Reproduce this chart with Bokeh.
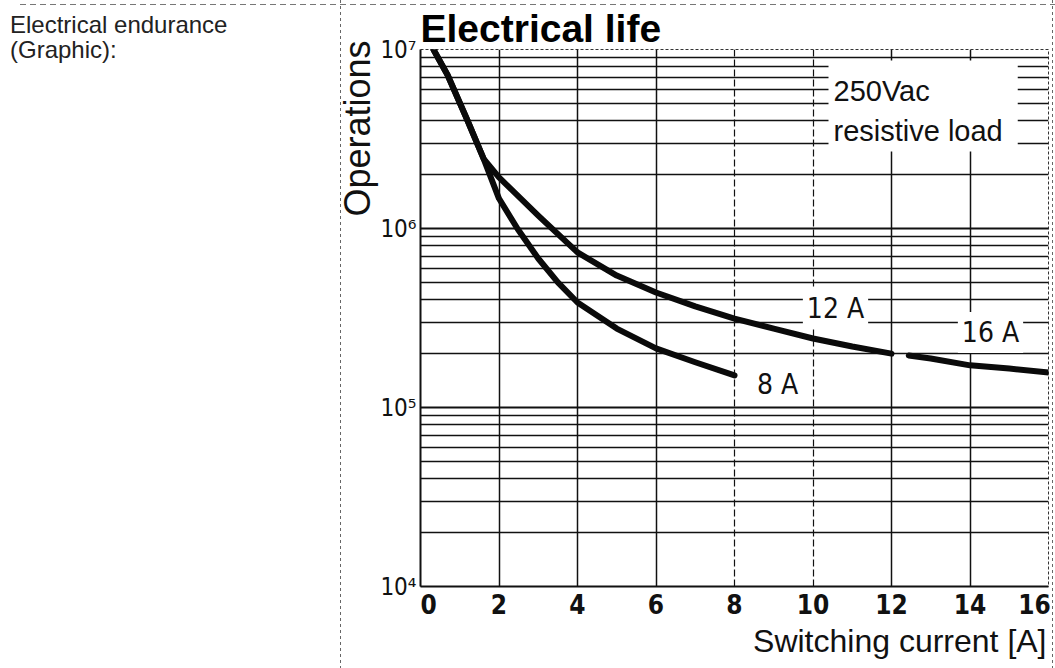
from bokeh.plotting import figure
from bokeh.layouts import row
from bokeh.models import Label, FixedTicker, CustomJSTickFormatter, Grid, Range1d, Title, Div
from bokeh.embed import file_html
from bokeh.resources import INLINE

# ---------------- data ----------------
current_8A = [0.33, 0.69, 1.2, 1.61, 2.0, 2.48, 3.0, 3.5, 4.0, 5.0, 6.0, 7.0, 8.0]
ops_8A = [1.0e7, 7.2e6, 4.0e6, 2.45e6, 1.47e6, 9.9e5, 6.8e5, 5.0e5, 3.86e5, 2.76e5, 2.14e5, 1.79e5, 1.51e5]

current_12A = [0.33, 0.69, 1.2, 1.61, 2.0, 3.0, 4.0, 5.0, 6.0, 7.0, 8.0, 9.0, 10.0, 11.0, 12.0]
ops_12A = [1.0e7, 7.2e6, 4.0e6, 2.45e6, 1.93e6, 1.18e6, 7.35e5, 5.46e5, 4.39e5, 3.67e5, 3.14e5, 2.76e5, 2.43e5, 2.19e5, 2.0e5]

current_16A = [12.44, 13.0, 14.0, 15.0, 16.0]
ops_16A = [1.95e5, 1.88e5, 1.72e5, 1.65e5, 1.57e5]

x_ticks = [0, 2, 4, 6, 8, 10, 12, 14, 16]
x_grid_solid = [2, 4, 6, 12, 14]
x_grid_dashed = [8, 10]
y_ticks = [1e4, 1e5, 1e6, 1e7]
y_minor = [m * 10 ** e for e in (4, 5, 6) for m in range(2, 10)]

curve_labels = ["8 A", "12 A", "16 A"]
note_text = "250Vac\nresistive load"
title_text = "Electrical life"
x_title = "Switching current [A]"
y_title = "Operations"
side_lines = ["Electrical endurance", "(Graphic):"]

# ---------------- layout helpers (page pixel -> data) ----------------
SIDE_W = 300          # width of the text column
SEP_X = 340           # page x of the dashed separator
RIGHT_X = 1052        # page x of the right page border
TOP_Y = 4             # page y of the top page border
FL, FT = 420 - SIDE_W, 49
FW, FH = 628, 537
XU = FW / 16.0
DEC = FH / 3.0

def dx(px):
    return (px - SIDE_W - FL) / XU

def dy(py):
    return 10 ** (7 - (py - FT) / DEC)

SANS = "Liberation Sans"
COND = "DejaVu Sans Condensed"
INK = "#111111"

vdash = "repeating-linear-gradient(to bottom, #666 0px, #666 3px, transparent 3px, transparent 6px)"
hdash = "repeating-linear-gradient(to right, #777 0px, #777 6px, transparent 6px, transparent 10px)"

side = Div(text='<div style="padding:12px 0 0 10px; font-family:\'Liberation Sans\'; font-size:24px; '
                'line-height:25px; color:#222; white-space:nowrap;">' + "<br>".join(side_lines) + '</div>',
           width=SIDE_W, height=668, margin=0,
           styles={"background": f"{hdash} 20px {TOP_Y}px / 100% 1px no-repeat, white"})

bg = (f"{vdash} {SEP_X - SIDE_W}px 0px / 1px 100% no-repeat, "
      f"{vdash} {RIGHT_X - SIDE_W}px 0px / 1px 100% no-repeat, "
      f"{hdash} 0px {TOP_Y}px / 100% 1px no-repeat, white")

p = figure(width=1055 - SIDE_W, height=668, x_range=Range1d(0, 16), y_range=Range1d(1e4, 1e7),
           y_axis_type="log", output_backend="svg", toolbar_location=None,
           min_border_left=FL, min_border_right=1055 - SIDE_W - FL - FW, min_border_top=FT,
           min_border_bottom=668 - FT - FH, margin=0, styles={"background": bg})
p.background_fill_color = "white"
p.border_fill_color = None
p.outline_line_color = "#333333"
p.outline_line_width = 1
p.outline_line_dash = "3 2"

# titles
p.add_layout(Title(text=title_text, align="left", vertical_align="bottom", offset=0, standoff=0,
                   text_font=SANS, text_font_style="bold", text_font_size="39px", text_color="#000000"),
             "above")
p.add_layout(Title(text=y_title, align="right", vertical_align="bottom", offset=-9, standoff=0,
                   text_font=SANS, text_font_style="normal", text_font_size="36px", text_color=INK),
             "left")
p.add_layout(Title(text=x_title, align="right", vertical_align="top", offset=2, standoff=0,
                   text_font=SANS, text_font_style="normal", text_font_size="32px", text_color=INK),
             "below")

# axes
p.xaxis.ticker = FixedTicker(ticks=x_ticks)
p.xaxis.formatter = CustomJSTickFormatter(code="""
const s = String(tick);
if (index == ticks.length - 1) return s + "\u2009";
if (index == 0) return "\u2007".repeat(s.length) + s;
return s;
""")
p.xaxis.major_label_text_font = COND
p.xaxis.major_label_text_font_style = "bold"
p.xaxis.major_label_text_font_size = "26px"
p.xaxis.major_label_text_color = INK
p.xaxis.major_tick_line_color = None
p.xaxis.minor_tick_line_color = None
p.xaxis.major_tick_out = 0
p.xaxis.major_tick_in = 0
p.xaxis.major_label_standoff = 3
p.xaxis.axis_line_color = INK
p.xaxis.axis_line_width = 2

p.yaxis.ticker = FixedTicker(ticks=y_ticks, minor_ticks=y_minor)
p.yaxis.formatter = CustomJSTickFormatter(code="""
const sup = {"0":"\u2070","1":"\u00b9","2":"\u00b2","3":"\u00b3","4":"\u2074","5":"\u2075","6":"\u2076","7":"\u2077","8":"\u2078","9":"\u2079"};
const e = Math.round(Math.log10(tick));
return "10" + String(e).split("").map(c => sup[c]).join("");
""")
p.yaxis.major_label_text_font = COND
p.yaxis.major_label_text_font_size = "24px"
p.yaxis.major_label_text_color = INK
p.yaxis.major_tick_line_color = None
p.yaxis.minor_tick_line_color = None
p.yaxis.major_tick_out = 0
p.yaxis.major_tick_in = 0
p.yaxis.minor_tick_out = 0
p.yaxis.minor_tick_in = 0
p.yaxis.major_label_standoff = 4
p.yaxis.axis_line_color = INK
p.yaxis.axis_line_width = 2

# grids
p.xgrid.ticker = FixedTicker(ticks=x_grid_solid)
p.xgrid.grid_line_color = INK
p.xgrid.grid_line_width = 1.5
p.add_layout(Grid(dimension=0, ticker=FixedTicker(ticks=x_grid_dashed), grid_line_color=INK,
                  grid_line_width=1.2, grid_line_dash="7 3"))
p.ygrid.grid_line_color = INK
p.ygrid.grid_line_width = 2
p.ygrid.minor_grid_line_color = INK
p.ygrid.minor_grid_line_width = 1.5

# curves
for xs, ys in ((current_8A, ops_8A), (current_12A, ops_12A), (current_16A, ops_16A)):
    p.line(xs, ys, line_width=6, line_color="#0a0a0a", line_cap="round", line_join="round")

# curve labels
lab_pos = [(777, 384), (835, 308), (990, 332)]
for txt, (lx, ly) in zip(curve_labels, lab_pos):
    p.add_layout(Label(x=dx(lx), y=dy(ly), text=txt, text_align="center", text_baseline="middle",
                       text_font=COND, text_font_size="28px", text_color=INK,
                       background_fill_color="white", padding=4))

# padding order: (left, right, top, bottom)
p.add_layout(Label(x=dx(828), y=dy(60), text=note_text, text_align="left", text_baseline="top",
                   text_font=SANS, text_font_size="29px", text_line_height=1.28,
                   text_color=INK, background_fill_color="white", padding=(5, 15, 14, 4)))

layout = row(side, p, spacing=0)
open("out.html", "w").write(file_html(layout, INLINE))
